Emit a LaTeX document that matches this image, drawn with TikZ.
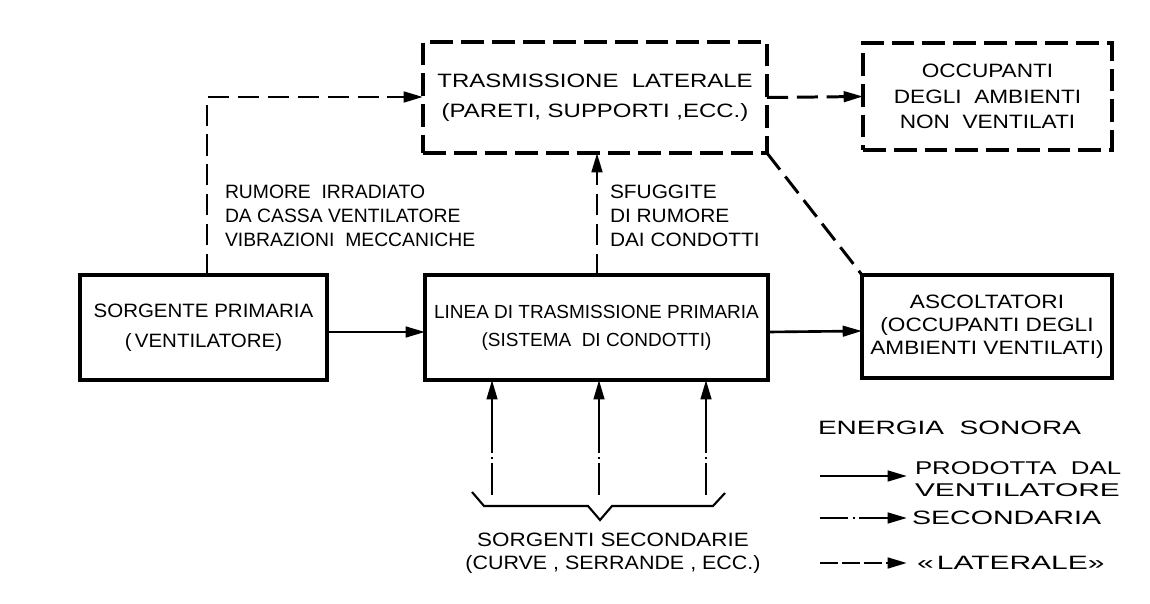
\documentclass[tikz,border=0pt]{standalone}
\usepackage{fontspec}
\setmainfont{Liberation Sans}
\usetikzlibrary{arrows.meta,calc}
\newcommand{\stx}[1]{\addfontfeatures{FakeStretch=#1}}
\begin{document}
\begin{tikzpicture}[x=0.02cm,y=-0.02cm,
  every node/.style={inner sep=0pt,outer sep=0pt},
  txt/.style={font=\fontsize{11}{17}\selectfont,align=center},
  solidbox/.style={draw,line width=2.4pt,txt},
  latbox/.style={draw,line width=2.8pt,dash pattern=on 13pt off 4.5pt,txt},
  tip/.style={-{Triangle[length=11pt,width=6pt]}},
  prim/.style={line width=1.5pt,tip},
  lat/.style={line width=1.7pt,dash pattern=on 12pt off 5pt},
  latarrow/.style={lat,tip},
  sec/.style={line width=1.5pt,dash pattern=on 18pt off 2.5pt on 1pt off 2.5pt on 200pt off 0pt,tip},
  lbl/.style={font=\fontsize{11}{13.6}\selectfont,align=left,anchor=west}
]
\useasboundingbox (0,0) rectangle (1150,604);
\fill[white] (0,0) rectangle (1150,604);

% boxes
\node[latbox,minimum width=6.88cm,minimum height=2.22cm] (trasm) at (595,97.5)
  {\stx{1.24}TRASMISSIONE\ \ LATERALE\\\stx{1.24}(PARETI, SUPPORTI ,ECC.)};
\node[latbox,minimum width=4.98cm,minimum height=2.14cm,font=\fontsize{11}{14.7}\selectfont] (occ) at (987.5,96.5)
  {\stx{1.17}OCCUPANTI\\\stx{1.17}DEGLI\ \ AMBIENTI\\\stx{1.17}NON\ \ VENTILATI};
\node[solidbox,minimum width=4.94cm,minimum height=2.1cm] (sorg) at (203.5,327.5)
  {\stx{1.06}SORGENTE PRIMARIA\\\stx{1.06}(\,VENTILATORE)};
\node[solidbox,minimum width=6.86cm,minimum height=2.1cm,font=\fontsize{10.8}{16}\selectfont] (linea) at (596.5,327.5)
  {LINEA DI TRASMISSIONE PRIMARIA\\(SISTEMA\ \ DI\ CONDOTTI)};
\node[solidbox,minimum width=5cm,minimum height=2.06cm,font=\fontsize{11}{13}\selectfont] (asc) at (987,326.5)
  {\stx{1.17}ASCOLTATORI\\\stx{1.17}(OCCUPANTI DEGLI\\\stx{1.17}AMBIENTI VENTILATI)};

% labels
\node[lbl] (rum) at (225,216) {RUMORE\ \ IRRADIATO\\DA CASSA VENTILATORE\\VIBRAZIONI\ \ MECCANICHE};
\node[lbl] (sfug) at (610,216) {\stx{1.08}SFUGGITE\\\stx{1.08}DI RUMORE\\\stx{1.08}DAI CONDOTTI};

% primary connectors
\draw[prim] ([yshift=-0.09cm]sorg.east) -- ([yshift=-0.09cm]linea.west);
\draw[prim] ([yshift=-0.09cm]linea.east) -- ([yshift=-0.09cm]asc.west);

% lateral connectors
\coordinate (c1) at (207,97);
\draw[latarrow] (c1 |- sorg.north) -- (c1) -- (c1 -| trasm.west);
\coordinate (c2) at (597,200);
\draw[latarrow] (c2 |- linea.north) -- (c2 |- trasm.south);
\draw[latarrow] (trasm.east) -- (occ.west);
\draw[lat] (trasm.south east) -- (asc.north west);

% secondary sources
\coordinate (s1) at (492,495);
\coordinate (s2) at (599,495);
\coordinate (s3) at (706,495);
\draw[sec] (s1) -- (s1 |- linea.south);
\draw[sec] (s2) -- (s2 |- linea.south);
\draw[sec] (s3) -- (s3 |- linea.south);
\draw[line width=1.2pt,line join=miter] (472,492) -- (484,506) -- (588,506) -- (600,520) -- (612,506) -- (713,506) -- (725,493);
\node[txt,font=\fontsize{11}{13}\selectfont] (secl) at (613,553) {\stx{1.16}SORGENTI SECONDARIE\\\stx{1.11}(CURVE , SERRANDE , ECC.)};

% legend
\node[lbl] (leg) at (818,428) {\stx{1.45}ENERGIA\ \ SONORA};
\coordinate (l1a) at (820,476); \coordinate (l1b) at (907,476);
\coordinate (l2a) at (820,518); \coordinate (l2b) at (907,518);
\coordinate (l3a) at (820,563); \coordinate (l3b) at (907,563);
\draw[prim] (l1a) -- (l1b);
\draw[line width=1.5pt,dash pattern=on 16pt off 2.5pt on 1.2pt off 2.5pt on 60pt,tip] (l2a) -- (l2b);
\draw[line width=1.7pt,dash pattern=on 10pt off 2.5pt,tip] (l3a) -- (l3b);
\node[lbl,font=\fontsize{10.5}{12.3}\selectfont] (lt1) at (915,479) {\stx{1.4}PRODOTTA\ \ DAL\\\stx{1.62}VENTILATORE};
\node[lbl] (lt2) at (912,518) {\stx{1.48}SECONDARIA};
\node[lbl] (lt3) at (917,563) {\stx{1.55}«\,LATERALE»};
\end{tikzpicture}
\end{document}
